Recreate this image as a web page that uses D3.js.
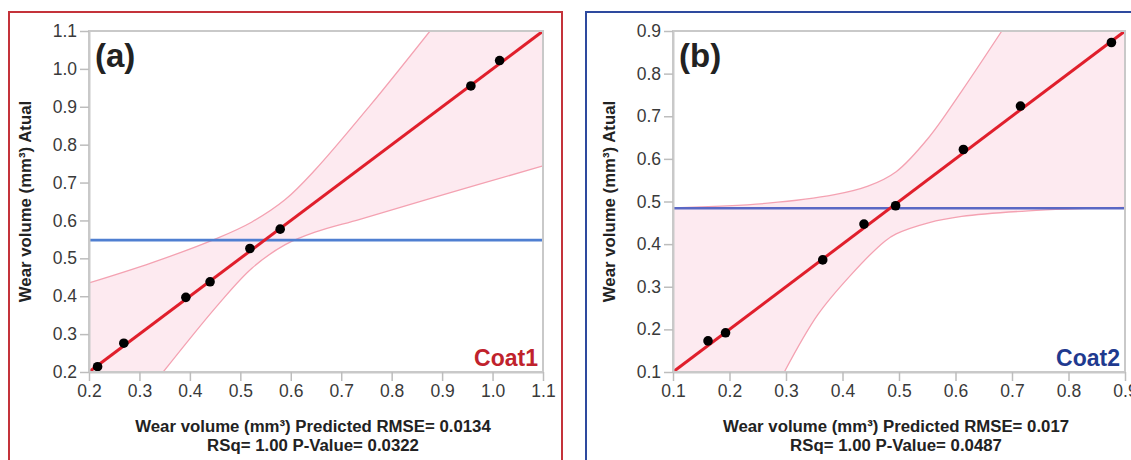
<!DOCTYPE html>
<html><head><meta charset="utf-8">
<script src="https://cdn.jsdelivr.net/npm/d3@7"></script>
<style>
body{margin:0;background:#fff}
text{font-family:"Liberation Sans",Arial,Helvetica,sans-serif}
</style>
</head><body>
<svg id="c" width="1131" height="460"></svg>
<script>
// ---------- data ----------
const coatNames = ["Coat1", "Coat2"];
const panelLabels = ["(a)", "(b)"];
const xTitle = "Wear volume (mm³) Predicted RMSE= ";
const yTitle = "Wear volume (mm³) Atual";

const coat1Ticks = [0.2, 0.3, 0.4, 0.5, 0.6, 0.7, 0.8, 0.9, 1.0, 1.1];
const coat2Ticks = [0.1, 0.2, 0.3, 0.4, 0.5, 0.6, 0.7, 0.8, 0.9];

const coat1Predicted = [0.217, 0.269, 0.392, 0.440, 0.519, 0.579, 0.957, 1.014];
const coat1Actual    = [0.214, 0.276, 0.397, 0.438, 0.526, 0.577, 0.955, 1.022];
const coat1Mean = 0.548;
const coat1Fit = [[0.2, 0.2], [1.1, 1.1]];
const coat1Upper = [[0.2, 0.435], [0.324, 0.488], [0.456, 0.554], [0.523, 0.596], [0.589, 0.655], [0.648, 0.733], [0.757, 0.903], [0.876, 1.1]];
const coat1Lower = [[0.347, 0.2], [0.456, 0.378], [0.523, 0.474], [0.589, 0.536], [0.648, 0.569], [0.737, 0.603], [0.869, 0.655], [1.1, 0.744]];
const coat1Stats = {rmse: "0.0134", rsq: "1.00", p: "0.0322"};

const coat2Predicted = [0.162, 0.193, 0.365, 0.438, 0.494, 0.614, 0.715, 0.876];
const coat2Actual    = [0.173, 0.192, 0.363, 0.447, 0.490, 0.622, 0.724, 0.873];
const coat2Mean = 0.484;
const coat2Fit = [[0.1, 0.1], [0.9, 0.9]];
const coat2Upper = [[0.1, 0.485], [0.268, 0.496], [0.386, 0.516], [0.445, 0.536], [0.495, 0.57], [0.552, 0.649], [0.611, 0.759], [0.682, 0.9]];
const coat2Lower = [[0.297, 0.1], [0.356, 0.234], [0.415, 0.328], [0.475, 0.407], [0.495, 0.424], [0.552, 0.450], [0.611, 0.465], [0.729, 0.478], [0.9, 0.486]];
const coat2Stats = {rmse: "0.017", rsq: "1.00", p: "0.0487"};

// ---------- layout ----------
const svg = d3.select("#c");
const fmt = d3.format(".1f");

const panels = [
  {name: coatNames[0], label: panelLabels[0], ticks: coat1Ticks, px: coat1Predicted, py: coat1Actual,
   mean: coat1Mean, fit: coat1Fit, upper: coat1Upper, lower: coat1Lower, stats: coat1Stats,
   box: {x: 9, y: 12, w: 553, h: 470}, boxColor: "#c4323a", nameColor: "#c0222c", meanColor: "#4f7fd1",
   plot: {l: 89, r: 543, t: 31, b: 372}, yTitleX: 25},
  {name: coatNames[1], label: panelLabels[1], ticks: coat2Ticks, px: coat2Predicted, py: coat2Actual,
   mean: coat2Mean, fit: coat2Fit, upper: coat2Upper, lower: coat2Lower, stats: coat2Stats,
   box: {x: 586, y: 12, w: 600, h: 470}, boxColor: "#2e4a9e", nameColor: "#1f3a8f", meanColor: "#5a68c4",
   plot: {l: 673, r: 1125, t: 31, b: 372}, yTitleX: 609}
];

panels.forEach((p, i) => {
  svg.append("rect").attr("x", p.box.x).attr("y", p.box.y).attr("width", p.box.w).attr("height", p.box.h)
    .attr("fill", "none").attr("stroke", p.boxColor).attr("stroke-width", 2);

  const dom = d3.extent(p.ticks);
  const x = d3.scaleLinear().domain(dom).range([p.plot.l, p.plot.r]);
  const y = d3.scaleLinear().domain(dom).range([p.plot.b, p.plot.t]);

  const clipId = "clip" + i;
  svg.append("clipPath").attr("id", clipId).append("rect")
    .attr("x", p.plot.l).attr("y", p.plot.t).attr("width", p.plot.r - p.plot.l).attr("height", p.plot.b - p.plot.t);

  const g = svg.append("g").attr("clip-path", `url(#${clipId})`);

  const line = d3.line().x(d => x(d[0])).y(d => y(d[1])).curve(d3.curveCatmullRom.alpha(0.5));

  const upD = line(p.upper);
  const loD = line(p.lower.slice().reverse()).replace(/^M/, "L");
  const bandD = upD + `L${x(dom[1])},${y(dom[1])}` + loD + `L${x(dom[0])},${y(dom[0])}Z`;
  g.append("path").attr("d", bandD).attr("fill", "#fdeaf0").attr("stroke", "none");

  g.append("path").attr("d", line(p.upper)).attr("fill", "none").attr("stroke", "#f4a2b2").attr("stroke-width", 1.3);
  g.append("path").attr("d", line(p.lower)).attr("fill", "none").attr("stroke", "#f4a2b2").attr("stroke-width", 1.3);

  g.append("line").attr("x1", x(dom[0])).attr("x2", x(dom[1])).attr("y1", y(p.mean)).attr("y2", y(p.mean))
    .attr("stroke", p.meanColor).attr("stroke-width", 2.6);

  g.append("path").attr("d", d3.line().x(d => x(d[0])).y(d => y(d[1]))(p.fit))
    .attr("fill", "none").attr("stroke", "#e01f2c").attr("stroke-width", 3);

  g.selectAll("circle.pt").data(p.px.map((v, k) => [v, p.py[k]])).join("circle")
    .attr("class", "pt").attr("cx", d => x(d[0])).attr("cy", d => y(d[1])).attr("r", 4.8).attr("fill", "#000");

  svg.append("rect").attr("x", p.plot.l).attr("y", p.plot.t).attr("width", p.plot.r - p.plot.l).attr("height", p.plot.b - p.plot.t)
    .attr("fill", "none").attr("stroke", "#c9c9c9").attr("stroke-width", 2);

  const ax = svg.append("g").attr("transform", `translate(0,${p.plot.b})`)
    .call(d3.axisBottom(x).tickValues(p.ticks).tickFormat(fmt).tickSize(9).tickSizeOuter(0).tickPadding(4));
  const ay = svg.append("g").attr("transform", `translate(${p.plot.l},0)`)
    .call(d3.axisLeft(y).tickValues(p.ticks).tickFormat(fmt).tickSize(9).tickSizeOuter(0).tickPadding(3));
  [ax, ay].forEach(a => {
    a.select(".domain").attr("stroke", "#c9c9c9").attr("stroke-width", 2);
    a.selectAll(".tick line").attr("stroke", "#bdbdbd").attr("stroke-width", 1.5);
    a.selectAll(".tick text").attr("fill", "#3a3a3a").style("font-size", "17.5px");
  });

  svg.append("text").attr("x", p.plot.l + 6).attr("y", p.plot.t + 36).text(p.label)
    .attr("fill", "#222").style("font-size", "33px").style("font-weight", "bold");

  svg.append("text").attr("x", p.plot.r - 5).attr("y", p.plot.b - 6).attr("text-anchor", "end").text(p.name)
    .attr("fill", p.nameColor).style("font-size", "23px").style("font-weight", "bold");

  const cx = (p.plot.l + p.plot.r) / 2 - 3;
  svg.append("text").attr("x", cx).attr("y", 432).attr("text-anchor", "middle")
    .text(xTitle + p.stats.rmse).attr("fill", "#222").style("font-size", "16.8px").style("font-weight", "bold");
  svg.append("text").attr("x", cx).attr("y", 451).attr("text-anchor", "middle")
    .text(`RSq= ${p.stats.rsq} P-Value= ${p.stats.p}`).attr("fill", "#222").style("font-size", "16.8px").style("font-weight", "bold");

  const cy = (p.plot.t + p.plot.b) / 2;
  svg.append("text").attr("transform", `translate(${p.yTitleX + 6},${cy}) rotate(-90)`).attr("text-anchor", "middle")
    .text(yTitle).attr("fill", "#222").style("font-size", "16.8px").style("font-weight", "bold");
});
</script>
</body></html>
